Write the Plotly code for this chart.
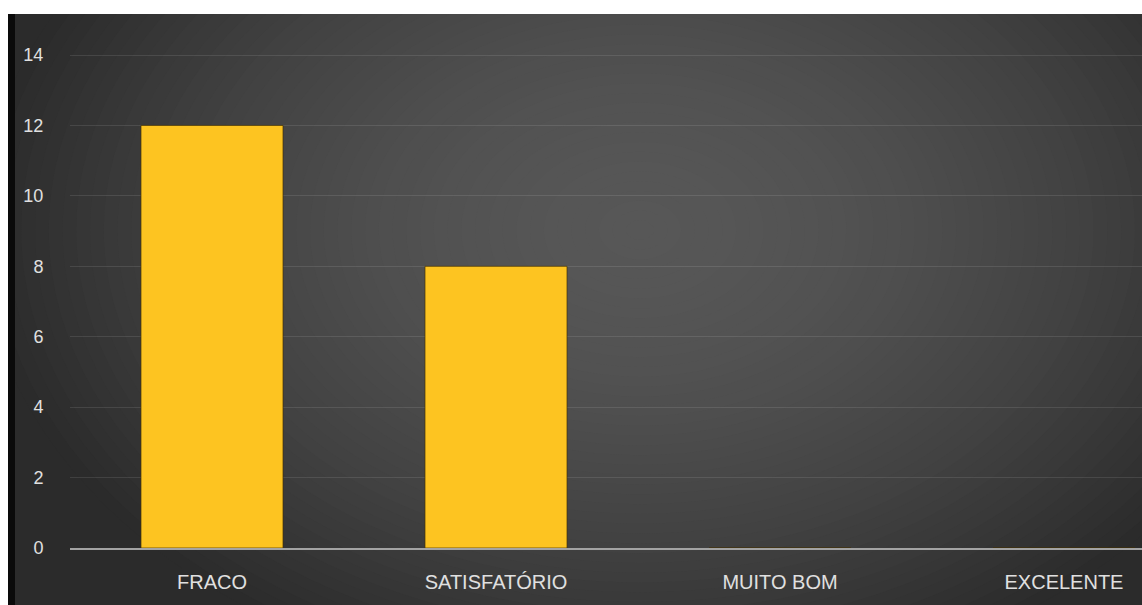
import plotly.graph_objects as go

categories = ["FRACO", "SATISFATÓRIO", "MUITO BOM", "EXCELENTE"]
values = [12, 8, 0, 0]
y_ticks = [0, 2, 4, 6, 8, 10, 12, 14]

W, H = 1142, 605
ML, MR, MT, MB = 70, 0, 14, 57
PW, PH = W - ML - MR, H - MT - MB

def px2paper_x(px):
    return (px - ML) / PW

def px2paper_y(py):
    return (H - MB - py) / PH

FONT = "Liberation Sans Narrow, Arial Narrow, Liberation Sans, sans-serif"

fig = go.Figure()
fig.add_trace(go.Bar(
    x=categories, y=values,
    marker=dict(color="#FDC421", line=dict(color="rgba(70,50,0,0.7)", width=1)),
    width=0.5,
))

shapes = []
# dark background
shapes.append(dict(type="rect", xref="paper", yref="paper",
                   x0=px2paper_x(8), x1=px2paper_x(W + 5),
                   y0=px2paper_y(14), y1=px2paper_y(H + 5),
                   fillcolor="#2b2b2b", line=dict(width=0), layer="below"))
# radial gradient via nested ellipses
cx, cy = 640, 230
rx, ry = 660, 470
N = 48
base, peak = 43, 87
for k in range(N):
    t = 1 - k / N
    v = base + (peak - base) * (1 - t ** 1.8)
    c = int(round(v))
    col = f"rgb({c},{c},{c})"
    shapes.append(dict(type="circle", xref="paper", yref="paper",
                       x0=px2paper_x(cx - rx * t), x1=px2paper_x(cx + rx * t),
                       y0=px2paper_y(cy + ry * t), y1=px2paper_y(cy - ry * t),
                       fillcolor=col, line=dict(width=0), layer="below"))
# white top strip and left strip, black left band
shapes.append(dict(type="rect", xref="paper", yref="paper",
                   x0=px2paper_x(-5), x1=px2paper_x(W + 5),
                   y0=px2paper_y(14), y1=px2paper_y(-5),
                   fillcolor="white", line=dict(width=0), layer="below"))
shapes.append(dict(type="rect", xref="paper", yref="paper",
                   x0=px2paper_x(-5), x1=px2paper_x(8),
                   y0=px2paper_y(H + 5), y1=px2paper_y(-5),
                   fillcolor="white", line=dict(width=0), layer="below"))
shapes.append(dict(type="rect", xref="paper", yref="paper",
                   x0=px2paper_x(8), x1=px2paper_x(15),
                   y0=px2paper_y(H + 5), y1=px2paper_y(14),
                   fillcolor="#0a0a0a", line=dict(width=0), layer="below"))

fig.update_layout(
    width=W, height=H,
    margin=dict(l=ML, r=MR, t=MT, b=MB, pad=0),
    paper_bgcolor="white",
    plot_bgcolor="rgba(0,0,0,0)",
    showlegend=False,
    shapes=shapes,
    xaxis=dict(
        type="category",
        range=[-0.5, -0.5 + PW / 284.0],
        showgrid=False,
        showline=True, linecolor="#a3a3a3", linewidth=2,
        ticks="outside", ticklen=15, tickcolor="rgba(0,0,0,0)",
        tickfont=dict(family=FONT, size=20, color="#e0e0e0"),
        fixedrange=True,
    ),
    yaxis=dict(
        range=[0, PH / 35.21],
        tickvals=y_ticks,
        showgrid=True, gridcolor="rgba(255,255,255,0.10)", gridwidth=1,
        zeroline=False,
        showline=False,
        ticks="outside", ticklen=22, tickcolor="rgba(0,0,0,0)",
        tickfont=dict(family=FONT, size=18, color="#e0e0e0"),
        fixedrange=True,
    ),
)

fig.write_html("out.html")
